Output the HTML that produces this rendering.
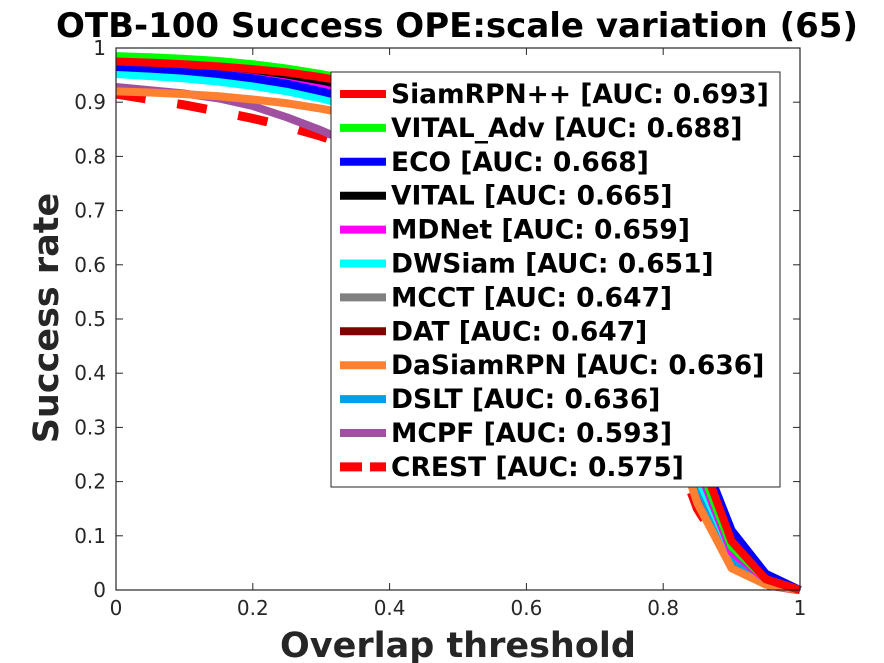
<!DOCTYPE html>
<html><head><meta charset="utf-8"><style>
body{margin:0;background:#fff;}
svg{display:block;font-family:"DejaVu Sans","Liberation Sans",sans-serif;}
</style></head><body>
<svg id="c" width="884" height="663"></svg>
<script>
const thresholds=[0,0.05,0.1,0.15,0.2,0.25,0.3,0.35,0.4,0.45,0.5,0.55,0.6,0.65,0.7,0.75,0.8,0.85,0.9,0.95,1];
const names=["SiamRPN++ [AUC: 0.693]","VITAL_Adv [AUC: 0.688]","ECO [AUC: 0.668]","VITAL [AUC: 0.665]","MDNet [AUC: 0.659]","DWSiam [AUC: 0.651]","MCCT [AUC: 0.647]","DAT [AUC: 0.647]","DaSiamRPN [AUC: 0.636]","DSLT [AUC: 0.636]","MCPF [AUC: 0.593]","CREST [AUC: 0.575]"];
const colors=["#ff0000","#00ff00","#0000ff","#000000","#ff00ff","#00ffff","#808080","#800000","#ff8030","#00a0e8","#a050a0","#ff0000"];
const sSiam=[0.975,0.973,0.97,0.966,0.961,0.955,0.946,0.935,0.92,0.9,0.875,0.845,0.8,0.74,0.66,0.56,0.44,0.26,0.09,0.02,0];
const sVitalAdv=[0.985,0.983,0.98,0.976,0.97,0.962,0.952,0.94,0.922,0.9,0.87,0.83,0.78,0.71,0.63,0.53,0.42,0.24,0.08,0.02,0];
const sEco=[0.965,0.962,0.958,0.952,0.944,0.934,0.92,0.905,0.885,0.86,0.83,0.79,0.74,0.68,0.6,0.52,0.42,0.27,0.11,0.03,0];
const sVital=[0.978,0.976,0.972,0.967,0.96,0.951,0.94,0.926,0.908,0.885,0.855,0.815,0.765,0.7,0.62,0.52,0.41,0.24,0.08,0.02,0];
const sMdnet=[0.975,0.972,0.968,0.962,0.955,0.946,0.934,0.92,0.9,0.876,0.845,0.805,0.755,0.69,0.61,0.51,0.4,0.23,0.07,0.02,0];
const sDwsiam=[0.952,0.948,0.944,0.938,0.93,0.92,0.907,0.89,0.87,0.845,0.815,0.775,0.725,0.66,0.58,0.48,0.37,0.21,0.07,0.02,0];
const sMcct=[0.975,0.972,0.968,0.962,0.954,0.944,0.93,0.913,0.892,0.866,0.834,0.794,0.742,0.678,0.6,0.5,0.39,0.22,0.07,0.02,0];
const sDat=[0.973,0.97,0.965,0.958,0.948,0.936,0.92,0.902,0.88,0.853,0.82,0.78,0.73,0.665,0.585,0.49,0.38,0.22,0.07,0.02,0];
const sDasiam=[0.92,0.918,0.915,0.911,0.905,0.898,0.888,0.876,0.86,0.838,0.81,0.772,0.722,0.66,0.58,0.47,0.35,0.16,0.04,0.01,0];
const sDslt=[0.962,0.958,0.954,0.948,0.94,0.93,0.915,0.896,0.872,0.843,0.808,0.765,0.712,0.648,0.57,0.47,0.36,0.2,0.06,0.01,0];
const sMcpf=[0.928,0.922,0.916,0.907,0.893,0.872,0.848,0.82,0.788,0.752,0.712,0.668,0.618,0.56,0.49,0.405,0.32,0.17,0.06,0.02,0];
const sCrest=[0.915,0.905,0.895,0.883,0.87,0.855,0.837,0.815,0.79,0.76,0.725,0.683,0.633,0.573,0.5,0.41,0.32,0.15,0.05,0.01,0];
const series=[sSiam,sVitalAdv,sEco,sVital,sMdnet,sDwsiam,sMcct,sDat,sDasiam,sDslt,sMcpf,sCrest];
const xTicks=[0,0.2,0.4,0.6,0.8,1];
const yTicks=[0,0.1,0.2,0.3,0.4,0.5,0.6,0.7,0.8,0.9,1];

const NS="http://www.w3.org/2000/svg";
const svg=document.getElementById('c');
const L=116,R=800,T=48,B=590;
const X=v=>L+(R-L)*v, Y=v=>B-(B-T)*v;
function mk(tag,attrs,parent){const e=document.createElementNS(NS,tag);for(const k in attrs)e.setAttribute(k,attrs[k]);(parent||svg).appendChild(e);return e;}

for(let i=series.length-1;i>=0;i--){
  const p=mk('polyline',{points:series[i].map((v,j)=>X(thresholds[j])+','+Y(v)).join(' '),fill:'none',stroke:colors[i],'stroke-width':8,'stroke-linejoin':'round'});
  if(i===11){p.setAttribute('stroke-dasharray','30 32');p.setAttribute('stroke-width',9);}
  
  
}
const ax=mk('rect',{x:L,y:T,width:R-L,height:B-T,fill:'none',stroke:'#262626','stroke-width':1.2});


xTicks.forEach(t=>{
  mk('line',{x1:X(t),x2:X(t),y1:B,y2:B-7,stroke:'#262626'});
  mk('line',{x1:X(t),x2:X(t),y1:T,y2:T+7,stroke:'#262626'});
  const tx=mk('text',{x:X(t),y:B+25,'text-anchor':'middle','font-size':20,fill:'#262626'});
  tx.textContent=String(t);
  
  
});
yTicks.forEach(t=>{
  mk('line',{x1:L,x2:L+7,y1:Y(t),y2:Y(t),stroke:'#262626'});
  mk('line',{x1:R,x2:R-7,y1:Y(t),y2:Y(t),stroke:'#262626'});
  const tx=mk('text',{x:L-10,y:Y(t)+7,'text-anchor':'end','font-size':20,fill:'#262626'});
  tx.textContent=String(t);
  
  
});
const tt=mk('text',{x:457,y:37,'text-anchor':'middle','font-size':34,'font-weight':'bold',fill:'#000'});
tt.textContent='OTB-100 Success OPE:scale variation (65)';


const xl=mk('text',{x:458,y:657,'text-anchor':'middle','font-size':35,'font-weight':'bold',fill:'#262626'});
xl.textContent='Overlap threshold';


const yl=mk('text',{x:0,y:0,'text-anchor':'middle','font-size':35,'font-weight':'bold',fill:'#262626',transform:'translate(58,318) rotate(-90)'});
yl.textContent='Success rate';


const lg=mk('g',{});


mk('rect',{x:331,y:72,width:449,height:415,fill:'#fff',stroke:'#262626','stroke-width':1},lg);
names.forEach((n,i)=>{
  const cy=94+i*33.9;
  const ln=mk('line',{x1:340,x2:386,y1:cy,y2:cy,stroke:colors[i],'stroke-width':8},lg);
  if(i===11){ln.setAttribute('stroke-dasharray','22 8');ln.setAttribute('stroke-width',9);}
  const t=mk('text',{x:391,y:cy+9,'font-size':26.5,'font-weight':'bold',fill:'#000'},lg);
  t.textContent=n;
  
  
});
</script>
</body></html>
